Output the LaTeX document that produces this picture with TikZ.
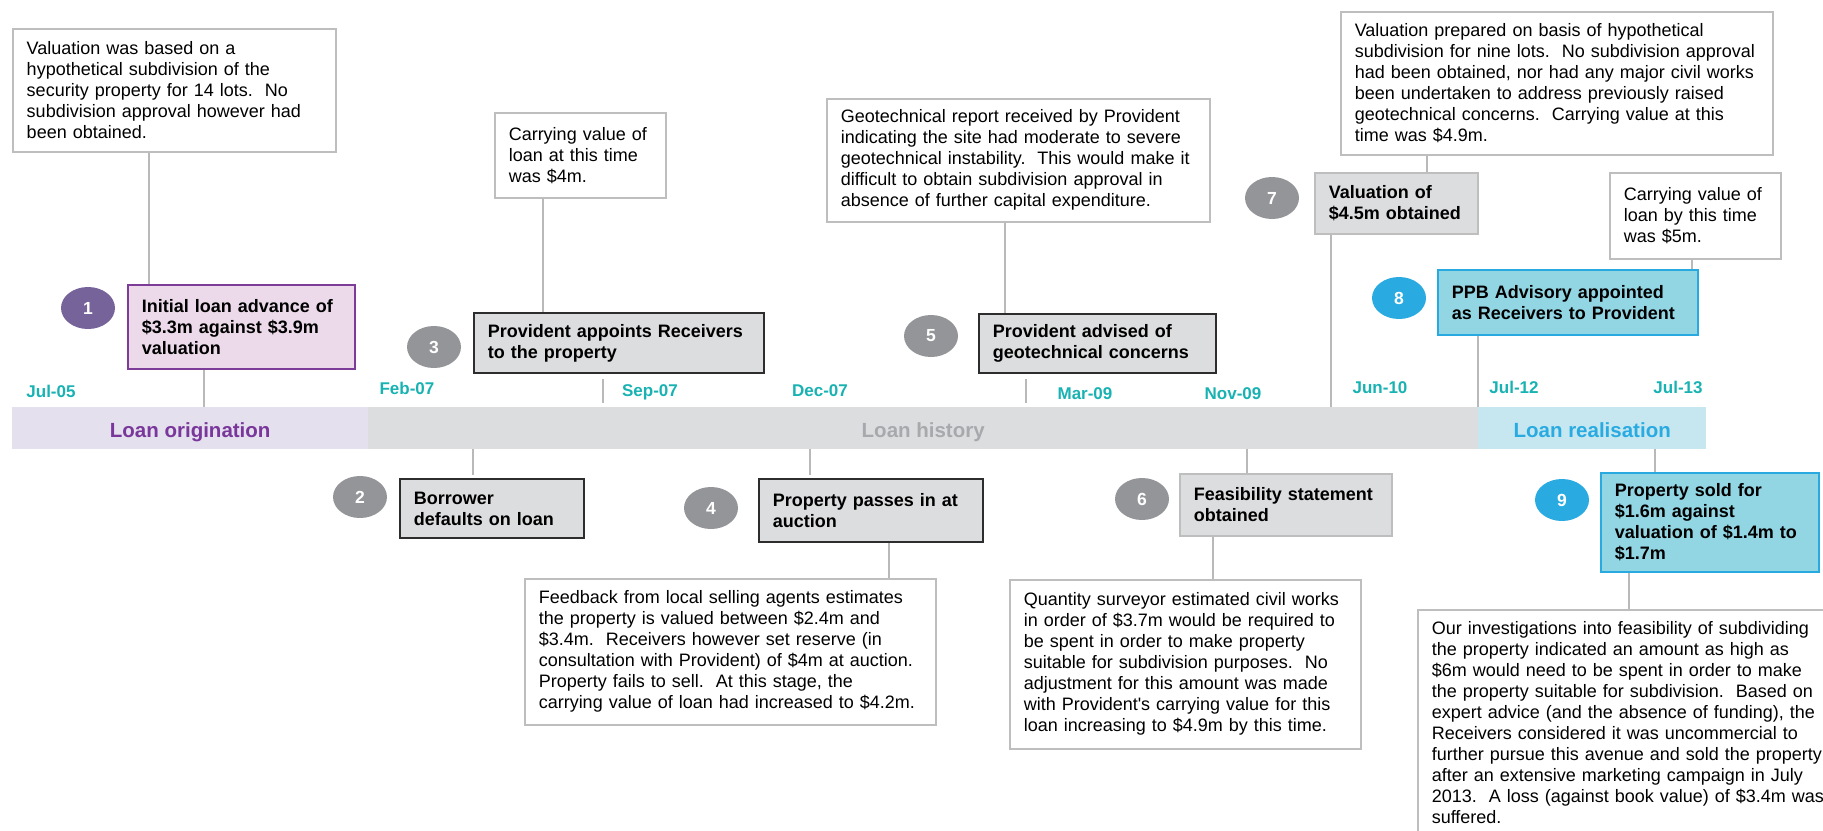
\documentclass[tikz,border=0pt]{standalone}
\usepackage{fontspec}
\setmainfont{Liberation Sans}
\usepackage{tikz}
\usetikzlibrary{shapes.geometric}

\definecolor{notegray}{RGB}{190,190,190}
\definecolor{linkgray}{RGB}{185,185,185}
\definecolor{evfill}{RGB}{220,221,222}
\definecolor{evdark}{RGB}{45,45,45}
\definecolor{evlight}{RGB}{190,190,190}
\definecolor{pinkfill}{RGB}{236,218,234}
\definecolor{purpleline}{RGB}{125,60,152}
\definecolor{bluefill}{RGB}{146,213,227}
\definecolor{blueline}{RGB}{40,170,225}
\definecolor{numpurple}{RGB}{117,99,154}
\definecolor{numgray}{RGB}{147,149,152}
\definecolor{numblue}{RGB}{41,171,226}
\definecolor{dateteal}{RGB}{25,178,178}
\definecolor{origfill}{RGB}{228,224,237}
\definecolor{histfill}{RGB}{220,221,223}
\definecolor{realfill}{RGB}{198,231,240}
\definecolor{origtext}{RGB}{122,55,155}
\definecolor{histtext}{RGB}{167,169,172}
\definecolor{realtext}{RGB}{41,171,226}

\begin{document}
\begin{tikzpicture}[x=1pt, y=-1pt,
		note/.style={draw=notegray, line width=1.5pt, fill=white, anchor=north west,
			align=left, inner xsep=14pt, inner ysep=0pt, font=\fontsize{18}{21}\selectfont},
		event/.style={fill=evfill, line width=1.8pt, anchor=north west, align=left,
			inner xsep=14pt, inner ysep=0pt, font=\bfseries\fontsize{18}{21}\selectfont},
		darkev/.style={event, draw=evdark},
		lightev/.style={event, draw=evlight},
		num/.style={ellipse, minimum width=54pt, minimum height=42pt, inner sep=0pt,
			text=white, font=\bfseries\fontsize{17.5}{20}\selectfont},
		link/.style={draw=linkgray, line width=1.5pt},
		date/.style={text=dateteal, inner sep=0pt, text height=12pt, text depth=0pt,
			font=\bfseries\fontsize{17}{20}\selectfont},
		band/.style={minimum height=42pt, inner sep=0pt, anchor=north west,
			text height=18.6pt, text depth=0pt, font=\bfseries\fontsize{20.5}{24}\selectfont}]
	\useasboundingbox (0,0) rectangle (1823,830);
	
	% Phase bands
	\node[band, fill=origfill, text=origtext, minimum width=356pt] (orig) at (12,407) {Loan origination};
	\node[band, fill=histfill, text=histtext, minimum width=1110pt] (hist) at (368,407) {Loan history};
	\node[band, fill=realfill, text=realtext, minimum width=228pt] (real) at (1478,407) {Loan realisation};
	
	% Dates
	\node[date] (jul05) at (51,391) {Jul-05};
	\node[date] (feb07) at (407,388) {Feb-07};
	\node[date] (sep07) at (650,390) {Sep-07};
	\node[date] (dec07) at (820,390) {Dec-07};
	\node[date] (mar09) at (1085,393) {Mar-09};
	\node[date] (nov09) at (1233,393) {Nov-09};
	\node[date] (jun10) at (1380,387) {Jun-10};
	\node[date] (jul12) at (1514,387) {Jul-12};
	\node[date] (jul13) at (1678,387) {Jul-13};
	
	% Events
	\node[event, draw=purpleline, fill=pinkfill, text width=199pt, minimum height=84pt] (ev1) at (127,284)
		{Initial loan advance of\\\$3.3m against \$3.9m\\valuation};
	\node[darkev, text width=156pt, minimum height=59pt] (ev2) at (399,478) {Borrower\\defaults on loan};
	\node[darkev, text width=262pt, minimum height=60pt] (ev3) at (473,312) {Provident appoints Receivers\\to the property};
	\node[darkev, text width=196pt, minimum height=63pt] (ev4) at (758,478) {Property passes in at\\auction};
	\node[darkev, text width=209pt, minimum height=59pt] (ev5) at (978,313) {Provident advised of\\geotechnical concerns};
	\node[lightev, text width=184pt, minimum height=62pt] (ev6) at (1179,473) {Feasibility statement\\obtained};
	\node[lightev, text width=135pt, minimum height=61pt] (ev7) at (1314,172) {Valuation of\\\$4.5m obtained};
	\node[event, draw=blueline, fill=bluefill, text width=232pt, minimum height=65pt] (ev8) at (1437,269)
		{PPB Advisory appointed\\as Receivers to Provident};
	\node[event, draw=blueline, fill=bluefill, text width=190pt, minimum height=99pt] (ev9) at (1600,472)
		{Property sold for\\\$1.6m against\\valuation of \$1.4m to\\\$1.7m};
	
	% Numbers
	\node[num, fill=numpurple] (c1) at (88,308) {1};
	\node[num, fill=numgray] (c2) at (360,497) {2};
	\node[num, fill=numgray] (c3) at (434,347) {3};
	\node[num, fill=numgray] (c4) at (711,508) {4};
	\node[num, fill=numgray] (c5) at (931,336) {5};
	\node[num, fill=numgray] (c6) at (1142,499) {6};
	\node[num, fill=numgray] (c7) at (1272,198) {7};
	\node[num, fill=numblue] (c8) at (1399,298) {8};
	\node[num, fill=numblue] (c9) at (1562,500) {9};
	
	% Notes
	\node[note, text width=295pt, minimum height=123pt] (nA) at (12,28)
		{Valuation was based on a\\hypothetical subdivision of the\\security property for 14 lots.\ \ No\\subdivision approval however had\\been obtained.};
	\node[note, text width=143pt, minimum height=85pt] (nB) at (494,112)
		{Carrying value of\\loan at this time\\was \$4m.};
	\node[note, text width=355pt, minimum height=123pt] (nC) at (826,98)
		{Geotechnical report received by Provident\\indicating the site had moderate to severe\\geotechnical instability.\ \ This would make it\\difficult to obtain subdivision approval in\\absence of further capital expenditure.};
	\node[note, text width=404pt, minimum height=143pt] (nD) at (1340,11)
		{Valuation prepared on basis of hypothetical\\subdivision for nine lots.\ \ No subdivision approval\\had been obtained, nor had any major civil works\\been undertaken to address previously raised\\geotechnical concerns.\ \ Carrying value at this\\time was \$4.9m.};
	\node[note, text width=143pt, minimum height=86pt] (nE) at (1609,172)
		{Carrying value of\\loan by this time\\was \$5m.};
	\node[note, text width=383pt, minimum height=146pt] (nF) at (524,578)
		{Feedback from local selling agents estimates\\the property is valued between \$2.4m and\\\$3.4m.\ \ Receivers however set reserve (in\\consultation with Provident) of \$4m at auction.\\Property fails to sell.\ \ At this stage, the\\carrying value of loan had increased to \$4.2m.};
	\node[note, text width=323pt, minimum height=169pt] (nG) at (1009,579)
		{Quantity surveyor estimated civil works\\in order of \$3.7m would be required to\\be spent in order to make property\\suitable for subdivision purposes.\ \ No\\adjustment for this amount was made\\with Provident{\addfontfeature{Mapping=}'}s carrying value for this\\loan increasing to \$4.9m by this time.};
	\node[note, text width=402pt, inner ysep=12pt] (nH) at (1417,609)
		{Our investigations into feasibility of subdividing\\the property indicated an amount as high as\\\$6m would need to be spent in order to make\\the property suitable for subdivision.\ \ Based on\\expert advice (and the absence of funding), the\\Receivers considered it was uncommercial to\\further pursue this avenue and sold the property\\after an extensive marketing campaign in July\\2013.\ \ A loss (against book value) of \$3.4m was\\suffered.};
	
	% Connectors above the bands
	\draw[link] (nA.south -| 149,0) -- (ev1.north -| 149,0);
	\draw[link] (ev1.south -| 204,0) -- (orig.north -| 204,0);
	\draw[link] (nB.south -| 543,0) -- (ev3.north -| 543,0);
	\draw[link, shorten <=5pt, shorten >=4pt] (ev3.south -| 603,0) -- (hist.north -| 603,0);
	\draw[link] (nC.south -| 1005,0) -- (ev5.north -| 1005,0);
	\draw[link, shorten <=5pt, shorten >=4pt] (ev5.south -| 1026,0) -- (hist.north -| 1026,0);
	\draw[link] (nD.south -| 1427,0) -- (ev7.north -| 1427,0);
	\draw[link] (ev7.south -| 1331,0) -- (hist.north -| 1331,0);
	\draw[link] (nE.south -| 1692,0) -- (ev8.north -| 1692,0);
	\draw[link] (ev8.south -| 1478,0) -- (real.north -| 1478,0);
	
	% Connectors below the bands
	\draw[link, shorten >=3pt] (hist.south -| 473,0) -- (ev2.north -| 473,0);
	\draw[link, shorten >=3pt] (hist.south -| 810,0) -- (ev4.north -| 810,0);
	\draw[link] (ev4.south -| 889,0) -- (nF.north -| 889,0);
	\draw[link] (hist.south -| 1247,0) -- (ev6.north -| 1247,0);
	\draw[link] (ev6.south -| 1213,0) -- (nG.north -| 1213,0);
	\draw[link] (real.south -| 1655,0) -- (ev9.north -| 1655,0);
	\draw[link] (ev9.south -| 1629,0) -- (nH.north -| 1629,0);
\end{tikzpicture}
\end{document}
